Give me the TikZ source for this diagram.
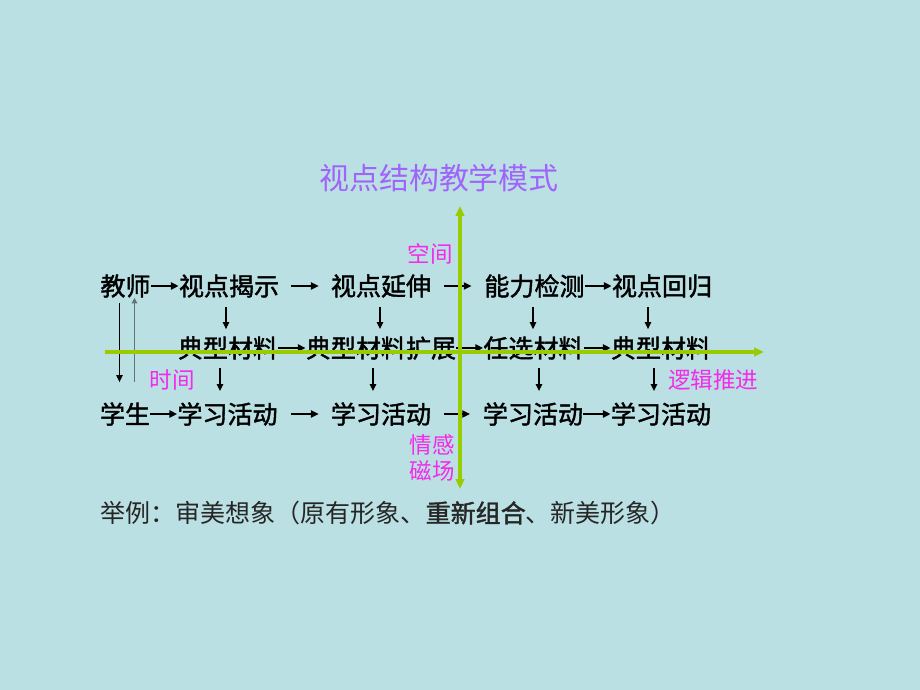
\documentclass[tikz,border=0pt]{standalone}
\usepackage{fontspec}
\usepackage{xcolor}
\usepackage{tikz}
\usetikzlibrary{calc, positioning, arrows.meta}
\newfontfamily\cjk{Noto Sans CJK SC}
\newfontfamily\cjkmid[FakeBold=1.6]{Noto Sans CJK SC}
\definecolor{bgteal}{RGB}{186,224,227}
\definecolor{axisgreen}{RGB}{153,204,0}
\definecolor{titlepurple}{RGB}{160,100,250}
\definecolor{labelpink}{RGB}{245,40,235}
\definecolor{linegray}{RGB}{100,115,118}

\begin{document}
\begin{tikzpicture}[x=0.025cm,y=-0.025cm,
                    main node/.style={inner sep=0pt,font=\cjkmid\fontsize{17.8}{20}\selectfont},
                    side label/.style={inner sep=0pt,text=labelpink,font=\cjk\fontsize{16}{18}\selectfont},
                    flow/.style={line width=1.4pt,-{Triangle[length=5.5pt,width=5pt]}},
                    down/.style={line width=1pt,-{Triangle[length=5pt,width=4.5pt]}},
                    axis/.style={line width=2.2pt,axisgreen}]

  \useasboundingbox[fill=bgteal] (0,0) rectangle (920,690);

  \node[inner sep=0pt,text=titlepurple,font=\cjk\fontsize{21.3}{24}\selectfont] (title) at (439,178) {视点结构教学模式};

  % teacher row
  \node[main node] (T0) at (125.5,286) {教师};
  \node[main node] (T1) at (229,286) {视点揭示};
  \node[main node] (T2) at (381,286) {视点延伸};
  \node[main node] (T3) at (534.5,286) {能力检测};
  \node[main node] (T4) at (662,286) {视点回归};

  % material row
  \node[main node] (M1) at (228,348) {典型材料};
  \node[main node] (M2) at (381,348) {典型材料扩展};
  \node[main node] (M3) at (533.5,348) {任选材料};
  \node[main node] (M4) at (661,348) {典型材料};

  % student row
  \node[main node] (S0) at (125,414) {学生};
  \node[main node] (S1) at (227.5,414) {学习活动};
  \node[main node] (S2) at (381,414) {学习活动};
  \node[main node] (S3) at (533,414) {学习活动};
  \node[main node] (S4) at (661,414) {学习活动};

  \path[flow]
    (T0) edge (T1)
    (T1) edge[shorten <=8.5pt, shorten >=8.5pt] (T2)
    (T2) edge[shorten <=9pt, shorten >=9pt] (T3)
    (T3) edge (T4)
    (M1) edge (M2)
    (M2) edge (M3)
    (M3) edge (M4)
    (S0) edge (S1)
    (S1) edge[shorten <=9.5pt, shorten >=8.5pt] (S2)
    (S2) edge[shorten <=9pt, shorten >=9pt] (S3)
    (S3) edge (S4);

  \draw[down] ([shift={(-3,9)}]T1.south) -- ([shift={(-3,-7)}]T1.south |- M1.north);
  \draw[down] ([shift={(-1,9)}]T2.south) -- ([shift={(-1,-7)}]T2.south |- M2.north);
  \draw[down] ([shift={(-1.5,9)}]T3.south) -- ([shift={(-1.5,-7)}]T3.south |- M3.north);
  \draw[down] ([shift={(-14,9)}]T4.south) -- ([shift={(-14,-7)}]T4.south |- M4.north);

  \draw[down] ([shift={(-8,8)}]M1.south) -- ([shift={(-8,-11)}]M1.south |- S1.north);
  \draw[down] ([shift={(-8,8)}]M2.south) -- ([shift={(-8,-11)}]M2.south |- S2.north);
  \draw[down] ([shift={(5.5,8)}]M3.south) -- ([shift={(5.5,-11)}]M3.south |- S3.north);
  \draw[down] ([shift={(-7,8)}]M4.south) -- ([shift={(-7,-11)}]M4.south |- S4.north);

  % time lines
  \draw[down,line width=0.8pt] ([shift={(-6,5)}]T0.south) -- ([shift={(-6,-20)}]T0.south |- S0.north);
  \draw[linegray,line width=1.3pt,-{Triangle[length=4pt,width=4pt]}] ([shift={(9,-20)}]T0.south |- S0.north) -- ([shift={(9,0)}]T0.south);

  % axes
  \coordinate (left end) at (105,352);
  \coordinate (right end) at (764,352);
  \coordinate (top end) at (460,206);
  \coordinate (bottom end) at (460,489);
  \draw[axis,-{Triangle[length=7pt,width=6pt]}] (left end) -- (right end);
  \draw[axis,{Triangle[length=7pt,width=6pt]}-{Triangle[length=7pt,width=6pt]}] (bottom end) -- (top end);

  \node[side label] (space) at (430,254) {空间};
  \node[side label] (time) at (172,380) {时间};
  \node[side label] (logic) at (713,380) {逻辑推进};
  \node[side label,align=center] (emotion) at (432,458) {情感\\[1pt]磁场};

  \node[inner sep=0pt,anchor=west,text=black!85,font=\cjk\fontsize{17.8}{20}\selectfont] (example) at (100,513)
    {举例：审美想象（原有形象、{\cjkmid 重新组合}、新美形象）};

\end{tikzpicture}
\end{document}
